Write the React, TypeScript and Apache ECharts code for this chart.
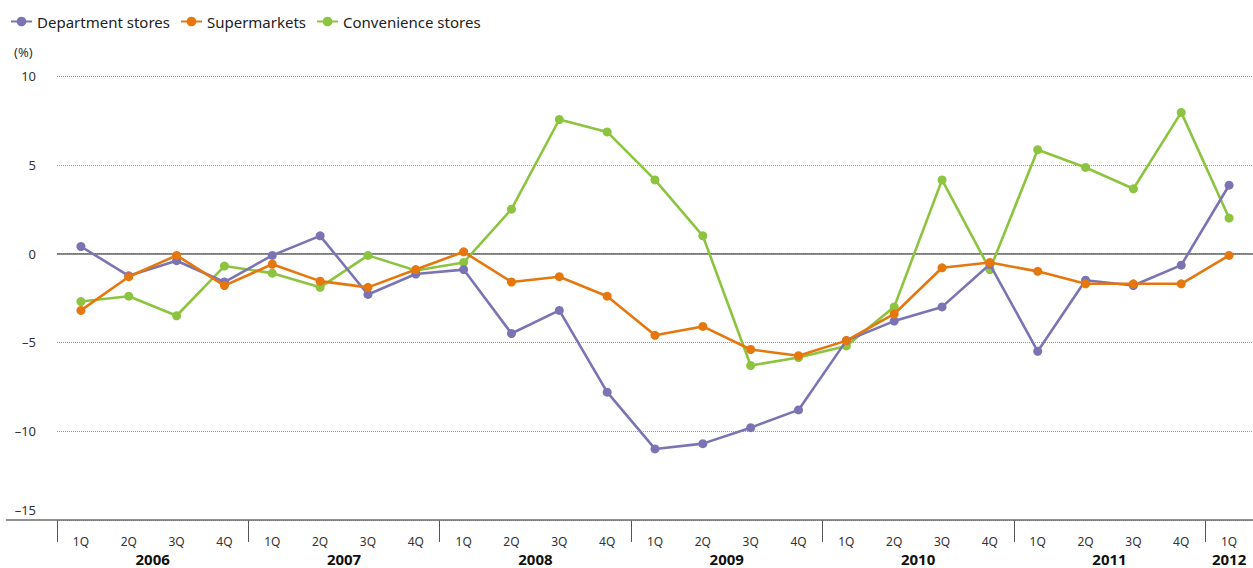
import React, { useEffect, useRef } from "react";
import * as echarts from "echarts";

const quarters = [
  "1Q", "2Q", "3Q", "4Q",
  "1Q", "2Q", "3Q", "4Q",
  "1Q", "2Q", "3Q", "4Q",
  "1Q", "2Q", "3Q", "4Q",
  "1Q", "2Q", "3Q", "4Q",
  "1Q", "2Q", "3Q", "4Q",
  "1Q",
];
const years = ["2006", "2007", "2008", "2009", "2010", "2011", "2012"];

const departmentStores = [
  0.4, -1.25, -0.4, -1.6,
  -0.1, 1.0, -2.3, -1.15,
  -0.9, -4.5, -3.2, -7.8,
  -11.0, -10.7, -9.8, -8.8,
  -4.9, -3.8, -3.0, -0.6,
  -5.5, -1.5, -1.8, -0.65,
  3.85,
];
const supermarkets = [
  -3.2, -1.3, -0.1, -1.8,
  -0.6, -1.55, -1.9, -0.9,
  0.1, -1.6, -1.3, -2.4,
  -4.6, -4.1, -5.4, -5.75,
  -4.9, -3.4, -0.8, -0.5,
  -1.0, -1.7, -1.7, -1.7,
  -0.1,
];
const convenienceStores = [
  -2.7, -2.4, -3.5, -0.7,
  -1.1, -1.9, -0.1, -0.95,
  -0.5, 2.5, 7.55, 6.85,
  4.15, 1.0, -6.3, -5.85,
  -5.2, -3.0, 4.15, -0.9,
  5.85, 4.85, 3.65, 7.95,
  2.0,
];

const yTicks = { min: -15, max: 10, interval: 5 };

const COLORS = {
  dept: "#7b74b4",
  super: "#e5770e",
  conv: "#8cc43f",
};

const FONT = "'Noto Sans', 'Open Sans', sans-serif";

// year group centres and boundaries in category-index units
const yearCenters = years.map((_, i) => {
  const start = i * 4;
  const end = Math.min(start + 3, quarters.length - 1);
  return (start + end) / 2;
});
const yearBounds = years.map((_, i) => i * 4 - 0.5);

export default function App() {
  const ref = useRef<HTMLDivElement>(null);

  useEffect(() => {
    if (!ref.current) return;
    const chart = echarts.init(ref.current, undefined, { renderer: "svg" });

    const mkSeries = (name: string, data: number[], color: string, z: number, extra: any = {}) => ({
      name,
      type: "line",
      data,
      xAxisIndex: 0,
      yAxisIndex: 0,
      symbol: "circle",
      symbolSize: 9,
      z,
      lineStyle: { color, width: 2.6 },
      itemStyle: { color },
      emphasis: { disabled: true },
      ...extra,
    });

    chart.setOption({
      animation: false,
      textStyle: { fontFamily: FONT },
      legend: {
        data: ["Department stores", "Supermarkets", "Convenience stores"],
        left: 5,
        top: 9,
        itemWidth: 21,
        itemHeight: 12,
        itemGap: 10,
        textStyle: { fontSize: 15, color: "#222", fontFamily: FONT },
      },
      grid: { left: 57, right: 0, top: 76, bottom: 48, containLabel: false },
      xAxis: [
        {
          type: "category",
          data: quarters,
          position: "bottom",
          offset: 0,
          boundaryGap: true,
          axisLine: { show: false },
          axisTick: { show: false },
          splitLine: { show: false },
          axisLabel: {
            interval: 0,
            margin: 15,
            fontSize: 12,
            color: "#333",
            fontFamily: FONT,
          },
        },
        {
          type: "value",
          position: "bottom",
          offset: 0,
          min: -0.5,
          max: quarters.length - 0.5,
          axisLine: { show: false },
          splitLine: { show: false },
          axisTick: {
            show: true,
            customValues: yearBounds,
            length: 22,
            lineStyle: { color: "#555", width: 1 },
          },
          axisLabel: {
            show: true,
            customValues: yearCenters,
            margin: 31,
            fontSize: 15,
            fontWeight: "bold",
            color: "#111",
            fontFamily: FONT,
            formatter: (v: number) => {
              const idx = yearCenters.findIndex((c) => Math.abs(c - v) < 1e-6);
              return idx >= 0 ? years[idx] : "";
            },
          },
        },
      ],
      yAxis: {
        type: "value",
        min: yTicks.min,
        max: yTicks.max,
        interval: yTicks.interval,
        axisLine: { show: false },
        axisTick: { show: false },
        splitLine: {
          show: true,
          lineStyle: { color: "#9a9a9a", type: [1, 1], width: 1 },
        },
        axisLabel: {
          margin: 21,
          fontSize: 13,
          color: "#333",
          fontFamily: FONT,
          formatter: (v: number) => {
            const s = v < 0 ? "\u2013" + Math.abs(v) : String(v);
            return v === yTicks.min ? "{low|" + s + "}" : s;
          },
          rich: {
            low: { fontSize: 13, color: "#333", fontFamily: FONT, padding: [0, 0, 20, 0] },
          },
        },
      },
      graphic: [
        {
          type: "text",
          left: 14,
          top: 45,
          style: { text: "(%)", fontSize: 13, fill: "#333", fontFamily: FONT },
        },
        {
          type: "line",
          shape: { x1: 6, y1: 520, x2: 1253, y2: 520 },
          style: { stroke: "#6b6b6b", lineWidth: 1.5 },
          z: 5,
        },
      ],
      series: [
        mkSeries("Convenience stores", convenienceStores, COLORS.conv, 2, {
          markLine: {
            silent: true,
            symbol: "none",
            label: { show: false },
            lineStyle: { color: "#666", type: "solid", width: 1.6 },
            data: [{ yAxis: 0 }],
            z: 1,
          },
        }),
        mkSeries("Department stores", departmentStores, COLORS.dept, 3),
        mkSeries("Supermarkets", supermarkets, COLORS.super, 4),
      ],
    });

    return () => chart.dispose();
  }, []);

  return (
    <div
      ref={ref}
      style={{ position: "absolute", left: 0, top: 0, width: 1253, height: 568 }}
    />
  );
}
